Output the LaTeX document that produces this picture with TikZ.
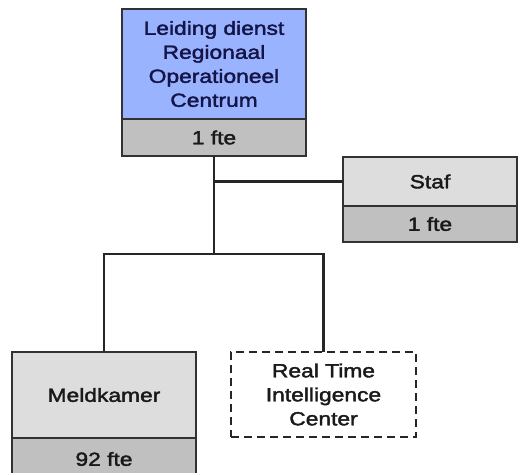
\documentclass[tikz,border=0pt]{standalone}
\usepackage{fontspec}
\setmainfont{Liberation Sans}[FakeStretch=1.2,FakeBold=2]
\definecolor{bluefill}{RGB}{153,179,255}
\definecolor{midgray}{RGB}{192,192,192}
\definecolor{lightgray}{RGB}{221,221,221}
\definecolor{navy}{RGB}{20,20,70}
\definecolor{boxline}{RGB}{50,50,50}
\tikzset{
  box/.style={draw=boxline, line width=1.5pt, rectangle, inner sep=0pt, outer sep=0pt,
    align=center, font=\fontsize{19}{24}\selectfont, text=black!90},
  conn/.style={line width=2.3pt, black!85},
}
\begin{document}
\begin{tikzpicture}[x=1pt,y=-1pt]
\useasboundingbox (0,0) rectangle (518,472);
\fill[white] (0,0) rectangle (518,472);
% top
\node[box, fill=bluefill, text=navy, minimum width=184pt, minimum height=110pt] (lead) at (214,64)
  {Leiding dienst\\Regionaal\\Operationeel\\Centrum};
\node[box, fill=midgray, minimum width=184pt, minimum height=37pt] (leadfte) at (214,137.5) {1 fte};
% staf
\node[box, fill=lightgray, minimum width=174pt, minimum height=49pt] (staf) at (430,181.5) {Staf};
\node[box, fill=midgray, minimum width=174pt, minimum height=36pt] (staffte) at (430,224) {1 fte};
% meldkamer
\node[box, fill=lightgray, minimum width=184pt, minimum height=86pt] (meld) at (104,395) {Meldkamer};
\node[box, fill=midgray, minimum width=184pt, minimum height=42pt] (meldfte) at (104,459) {92 fte};
% rtic
\node[box, dashed, dash pattern=on 8pt off 5pt, line width=2.3pt, draw=black!85, fill=white,
  minimum width=185pt, minimum height=85pt] (rtic) at (323.5,394.5) {Real Time\\Intelligence\\Center};
% connectors
\coordinate (j) at (214,254);
\draw[conn] (leadfte.south) -- (j);
\draw[conn] (leadfte.south |- staf.west) -- (staf.west);
\draw[conn] (meld.north) |- (j) -| (rtic.north);
\end{tikzpicture}
\end{document}
